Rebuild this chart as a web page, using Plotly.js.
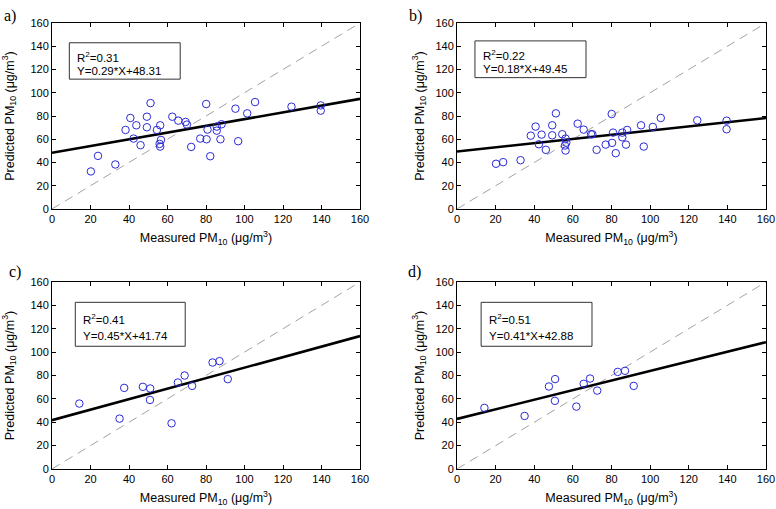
<!DOCTYPE html>
<html>
<head>
<meta charset="utf-8">
<script src="https://cdn.plot.ly/plotly-3.0.1.min.js"></script>
<style>html,body{margin:0;padding:0;background:#fff;}#chart{width:776px;height:509px;}</style>
</head>
<body>
<div id="chart"></div>
<script>
// Measured PM10 (shared by panels a and b)
var measuredAB = [20.2,23.9,32.9,38.2,40.7,43.8,42.4,46,49.3,49.3,51.2,54.5,56.2,56.6,55.9,56.2,62.5,65.6,69.4,70.1,72.3,77,80.1,80.3,80.8,82.2,85.6,85.6,87.5,88.1,95.3,96.7,101.4,105.5,124.4,139.6,139.6];
var predictedA = [32.3,45.7,38.3,68,78.3,72,60.6,54.9,79.4,70.3,91.1,68,72,59.4,56,53.7,79.4,76,74.9,72.6,53.4,60.6,90.3,60,68.3,45.4,70.9,67.4,60,72.9,86.3,58.3,82.3,92,88,89.1,84.6];
var predictedB = [38.9,40.3,42,63.1,70.9,64,55.7,50.9,72,63.4,82.3,64.3,60.6,57.1,54.6,50.3,73.4,68.3,64.3,64.3,50.9,55.4,81.7,56.9,65.7,48,61.7,65.7,55.4,68,72,53.7,70.6,78.3,76.3,76,68.6];
var measuredC = [14.2,35.1,37.5,47.2,51,50.9,62.1,65.4,68.9,72.8,83.4,87,91.3];
var predictedC = [56,43.1,69.4,70.3,68.9,59.1,39.1,74,80,71.1,91.1,92.3,76.9];
var measuredD = [14.2,35,47.6,50.8,50.7,61.8,65.6,68.9,72.6,83.2,87,91.5];
var predictedD = [52.3,45.4,70.6,76.9,58.3,53.4,72.9,77.4,67.1,83.1,84,71.1];

var panelLabels = ['a)','b)','c)','d)'];
var r2Labels = ['R<sup>2</sup>=0.31','R<sup>2</sup>=0.22','R<sup>2</sup>=0.41','R<sup>2</sup>=0.51'];
var eqLabels = ['Y=0.29*X+48.31','Y=0.18*X+49.45','Y=0.45*X+41.74','Y=0.41*X+42.88'];
var slopes = [0.29,0.18,0.45,0.41];
var intercepts = [48.31,49.45,41.74,42.88];
var axisRange = [0,160];
var tickVals = [0,20,40,60,80,100,120,140,160];

var xs = [measuredAB, measuredAB, measuredC, measuredD];
var ys = [predictedA, predictedB, predictedC, predictedD];

var W = 776, H = 509;
var xDom = [[52/W,360/W],[457/W,766/W],[52/W,360/W],[457/W,766/W]];
var yDom = [[1-209/H,1-23/H],[1-209/H,1-23/H],[1-469/H,1-282/H],[1-469/H,1-282/H]];
var boxes = [[9,66.6,111.7,143],[9.3,66.8,113,144.6],[12.1,69.2,105,142.6],[12.5,69.9,105,142.6]];
var labelPx = [[2,5],[407,5],[7,261],[406,261]];
var yStandoff = [13,8,13,8];

var font = 'Liberation Sans, Arial, sans-serif';
var data = [], shapes = [], annotations = [];
var layout = {
  width: W, height: H,
  margin: {l:0,r:0,t:0,b:0},
  paper_bgcolor: '#fff', plot_bgcolor: '#fff',
  showlegend: false,
  font: {family: font, size: 11, color: '#000'}
};

for (var i = 0; i < 4; i++) {
  var sfx = i === 0 ? '' : String(i+1);
  var xa = 'x' + sfx, ya = 'y' + sfx;
  data.push({x: axisRange, y: axisRange, xaxis: xa, yaxis: ya, mode: 'lines',
    line: {color: '#8a8a8a', width: 0.8, dash: '9px,6px'}, hoverinfo: 'skip'});
  data.push({x: axisRange, y: axisRange.map(function(v){return slopes[i]*v + intercepts[i];}),
    xaxis: xa, yaxis: ya, mode: 'lines', line: {color: '#000', width: 2.6}, hoverinfo: 'skip'});
  data.push({x: xs[i], y: ys[i], xaxis: xa, yaxis: ya, mode: 'markers',
    marker: {symbol: 'circle-open', size: 7.5, color: '#2a2ad8', line: {width: 1}}});

  var axCommon = {range: axisRange, tickvals: tickVals, ticks: 'inside', ticklen: 4,
    tickcolor: '#000', showline: true, linecolor: '#000', linewidth: 1, mirror: 'ticks',
    showgrid: false, zeroline: false, tickfont: {family: font, size: 11, color: '#000'}};
  var xAx = Object.assign({}, axCommon, {domain: xDom[i], anchor: ya,
    title: {text: 'Measured PM<sub>10</sub> (μg/m<sup>3</sup>)', font: {family: font, size: 12.5}, standoff: 9}});
  var yAx = Object.assign({}, axCommon, {domain: yDom[i], anchor: xa,
    title: {text: 'Predicted PM<sub>10</sub> (μg/m<sup>3</sup>)', font: {family: font, size: 12.5}, standoff: yStandoff[i]}});
  layout['xaxis' + sfx] = xAx;
  layout['yaxis' + sfx] = yAx;

  var b = boxes[i];
  shapes.push({type: 'rect', xref: xa, yref: ya, x0: b[0], x1: b[1], y0: b[2], y1: b[3],
    line: {color: '#333', width: 1}, fillcolor: 'rgba(0,0,0,0)'});
  var h = b[3] - b[2];
  annotations.push({xref: xa, yref: ya, x: b[0] + 3, y: b[3] - h*0.38, text: r2Labels[i],
    showarrow: false, xanchor: 'left', yanchor: 'middle', font: {family: font, size: 11.5, color: '#000'}});
  annotations.push({xref: xa, yref: ya, x: b[0] + 3, y: b[3] - h*0.77, text: eqLabels[i],
    showarrow: false, xanchor: 'left', yanchor: 'middle', font: {family: font, size: 11.5, color: '#000'}});
  annotations.push({xref: 'paper', yref: 'paper', x: labelPx[i][0]/W, y: 1 - labelPx[i][1]/H,
    text: panelLabels[i], showarrow: false, xanchor: 'left', yanchor: 'top',
    font: {family: 'Liberation Serif, Times New Roman, serif', size: 16, color: '#000'}});
}
layout.shapes = shapes;
layout.annotations = annotations;

Plotly.newPlot('chart', data, layout, {displayModeBar: false, staticPlot: true});
</script>
</body>
</html>
